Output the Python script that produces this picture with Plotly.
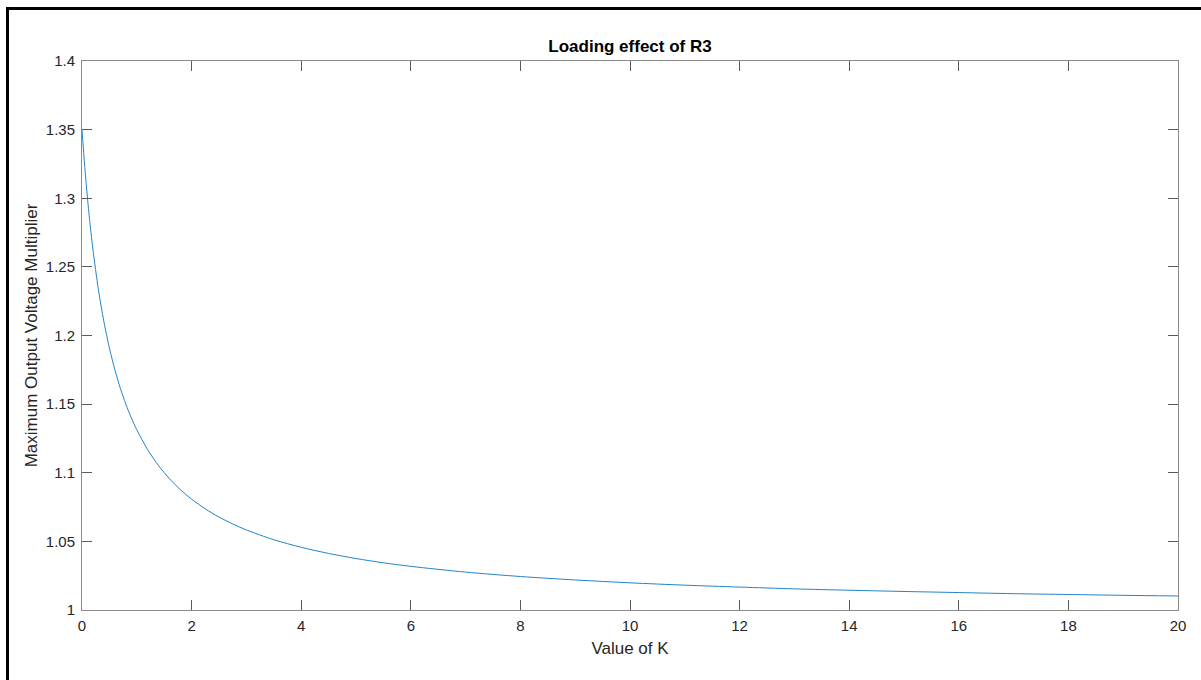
import plotly.graph_objects as go

# Sampled values of the loading curve
k_values = [0, 0.05, 0.1, 0.15, 0.2, 0.3, 0.4, 0.5, 0.6, 0.7, 0.8, 0.9, 1.0,
            1.2, 1.4, 1.6, 1.8, 2.0, 2.25, 2.5, 2.75, 3, 3.5, 4, 4.5, 5, 5.5,
            6, 7, 8, 9, 10, 11, 12, 13, 14, 15, 16, 17, 18, 19, 20]
multiplier = [1.3500, 1.3231, 1.3000, 1.2800, 1.2625, 1.2333, 1.2100, 1.1909,
              1.1750, 1.1615, 1.1500, 1.1400, 1.1313, 1.1167, 1.1050, 1.0955,
              1.0875, 1.0808, 1.0737, 1.0677, 1.0627, 1.0583, 1.0512, 1.0457,
              1.0412, 1.0375, 1.0344, 1.0318, 1.0276, 1.0244, 1.0219, 1.0198,
              1.0181, 1.0167, 1.0154, 1.0144, 1.0135, 1.0127, 1.0119, 1.0113,
              1.0107, 1.0102]

x_ticks = [0, 2, 4, 6, 8, 10, 12, 14, 16, 18, 20]
y_ticks = [1, 1.05, 1.1, 1.15, 1.2, 1.25, 1.3, 1.35, 1.4]
y_tick_text = ["1", "1.05", "1.1", "1.15", "1.2", "1.25", "1.3", "1.35", "1.4"]

W, H = 1201, 680
L, R, T, B = 82, 1178, 61, 610
FONT = "Liberation Sans, Arial"

fig = go.Figure()
fig.add_trace(go.Scatter(
    x=k_values, y=multiplier, mode="lines",
    line=dict(color="#2383c8", width=1, shape="spline", smoothing=0.8),
    showlegend=False, hoverinfo="x+y",
))

axis_style = dict(
    showgrid=False, zeroline=False, showline=True, linecolor="#8a8a8a",
    linewidth=1, mirror="ticks", ticks="inside", ticklen=10, tickwidth=1,
    tickcolor="#5a5a5a", tickfont=dict(family=FONT, size=15, color="#262626"),
)

fig.update_xaxes(range=[0, 20], tickvals=x_ticks, ticktext=[str(v) for v in x_ticks],
                 ticklabelstandoff=2,
                 title=dict(text="Value of K", standoff=9,
                            font=dict(family=FONT, size=17, color="#262626")),
                 **axis_style)
fig.update_yaxes(range=[1, 1.4], tickvals=y_ticks, ticktext=y_tick_text,
                 ticklabelstandoff=3,
                 title=dict(text="Maximum Output Voltage Multiplier", standoff=3,
                            font=dict(family=FONT, size=17, color="#262626")),
                 **axis_style)


def px_x(p):
    return (p - L) / (R - L)


def px_y(p):
    return (B - p) / (B - T)


# figure frame (left and top edges visible)
fig.add_shape(type="line", xref="paper", yref="paper",
              x0=px_x(7.5), x1=px_x(7.5), y0=px_y(7), y1=px_y(H + 5),
              line=dict(color="black", width=3))
fig.add_shape(type="line", xref="paper", yref="paper",
              x0=px_x(6), x1=px_x(W + 5), y0=px_y(8.5), y1=px_y(8.5),
              line=dict(color="black", width=3))

fig.update_layout(
    width=W, height=H,
    margin=dict(l=L, r=W - R, t=T, b=H - B, pad=0),
    paper_bgcolor="white", plot_bgcolor="white",
    title=dict(text="<b>Loading effect of R3</b>", x=0.5, xref="paper",
               y=1 - 46 / H, yanchor="middle",
               font=dict(family=FONT, size=17, color="black")),
)

fig.write_html("out.html")
